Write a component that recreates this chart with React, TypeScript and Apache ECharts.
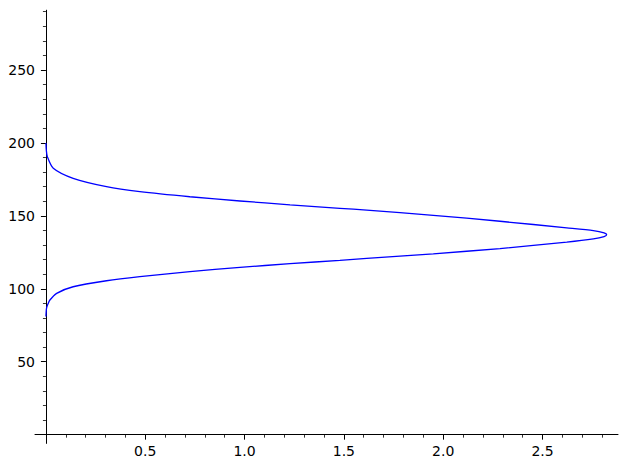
import React, { useEffect, useRef } from "react";
import * as echarts from "echarts";

// Curve points [x, y], in drawing order (lower branch up to peak, then upper branch)
const curveX = [0, 0.001, 0.003, 0.01, 0.02, 0.054, 0.137, 0.305, 0.473, 0.725, 0.977, 1.229, 1.48, 1.615, 1.95, 2.286, 2.622, 2.756, 2.81, 2.823, 2.81, 2.756, 2.622, 2.286, 1.95, 1.615, 1.48, 1.229, 0.977, 0.725, 0.473, 0.305, 0.137, 0.037, 0.007, 0.002, 0];
const curveY = [81, 83.5, 86.6, 89.5, 92.3, 96.9, 101.4, 105.5, 108.3, 111.7, 114.7, 117.2, 119.5, 120.8, 124.0, 127.6, 132.0, 134.2, 135.8, 137.0, 138.3, 139.9, 141.8, 146.3, 150.4, 153.9, 155.2, 157.6, 160.2, 163.1, 166.6, 170.0, 175.7, 182.6, 190.6, 195.0, 200];

const xMajorTicks = [0.5, 1.0, 1.5, 2.0, 2.5];
const xMinorTicks = [0.1, 0.2, 0.3, 0.4, 0.6, 0.7, 0.8, 0.9, 1.1, 1.2, 1.3, 1.4, 1.6, 1.7, 1.8, 1.9, 2.1, 2.2, 2.3, 2.4, 2.6, 2.7, 2.8];
const yMajorTicks = [50, 100, 150, 200, 250];
const yMinorTicks = [10, 20, 30, 40, 60, 70, 80, 90, 110, 120, 130, 140, 160, 170, 180, 190, 210, 220, 230, 240, 260, 270, 280, 290];

const X_MIN = -0.055;
const X_MAX = 2.88;
const Y_MIN = -6;
const Y_MAX = 291;

export default function App() {
  const ref = useRef<HTMLDivElement>(null);
  useEffect(() => {
    if (!ref.current) return;
    const chart = echarts.init(ref.current, null, { renderer: "svg" });
    const font = { fontFamily: "DejaVu Sans", fontSize: 14, color: "#000" };
    const data = curveX.map((x, i) => [x, curveY[i]]);
    chart.setOption({
      animation: false,
      backgroundColor: "#fff",
      grid: { left: 35, top: 10.2, width: 583, height: 433.2, containLabel: false, outerBoundsMode: "none" },
      xAxis: [
        {
          type: "value", min: X_MIN, max: X_MAX, position: "bottom",
          axisLine: { show: true, onZero: true, onZeroAxisIndex: 0, lineStyle: { color: "#000", width: 1 } },
          axisTick: { show: true, customValues: xMajorTicks, length: 5, lineStyle: { color: "#000", width: 1 } },
          axisLabel: { show: true, customValues: xMajorTicks, margin: 1, formatter: (v: number) => v.toFixed(1), ...font },
          splitLine: { show: false },
        },
        {
          type: "value", min: X_MIN, max: X_MAX, position: "bottom",
          axisLine: { show: false, onZero: true, onZeroAxisIndex: 0 },
          axisTick: { show: true, customValues: xMinorTicks, length: 3, lineStyle: { color: "#000", width: 0.8 } },
          axisLabel: { show: false },
          splitLine: { show: false },
        },
      ],
      yAxis: [
        {
          type: "value", min: Y_MIN, max: Y_MAX, position: "left",
          axisLine: { show: true, onZero: true, onZeroAxisIndex: 0, lineStyle: { color: "#000", width: 1 } },
          axisTick: { show: true, customValues: yMajorTicks, length: 5, lineStyle: { color: "#000", width: 1 } },
          axisLabel: { show: true, customValues: yMajorTicks, margin: 0, formatter: (v: number) => String(v), ...font },
          splitLine: { show: false },
        },
        {
          type: "value", min: Y_MIN, max: Y_MAX, position: "left",
          axisLine: { show: false, onZero: true, onZeroAxisIndex: 0 },
          axisTick: { show: true, customValues: yMinorTicks, length: 3, lineStyle: { color: "#000", width: 0.8 } },
          axisLabel: { show: false },
          splitLine: { show: false },
        },
      ],
      series: [
        {
          type: "line",
          xAxisIndex: 0,
          yAxisIndex: 0,
          data,
          showSymbol: false,
          smooth: 0.25,
          lineStyle: { color: "#0000ff", width: 1.3 },
          clip: false,
        },
      ],
    });
    return () => chart.dispose();
  }, []);
  return <div ref={ref} style={{ position: "fixed", left: 0, top: 0, width: 628, height: 468 }} />;
}
